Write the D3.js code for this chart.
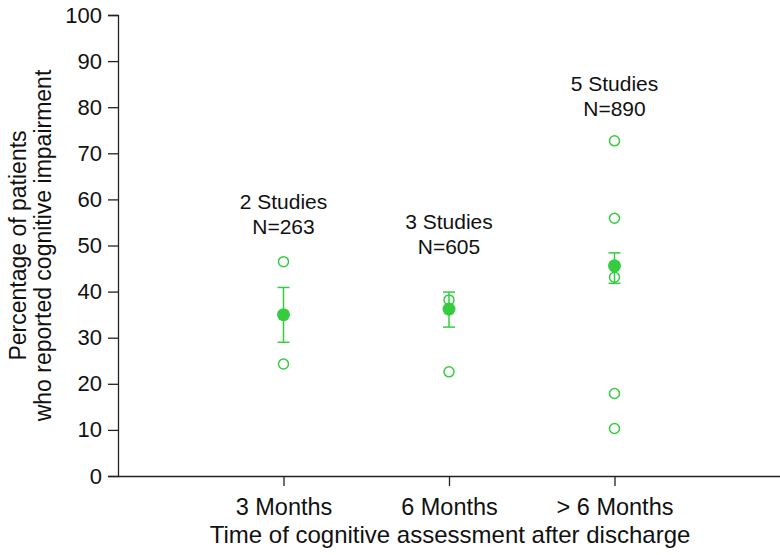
<!DOCTYPE html>
<html>
<head>
<meta charset="utf-8">
<script src="https://cdn.jsdelivr.net/npm/d3@7"></script>
<style>
  html, body { margin: 0; padding: 0; background: #fff; }
  svg text { font-family: "Liberation Sans", Arial, Helvetica, sans-serif; fill: #111; }
</style>
</head>
<body>
<svg id="chart" width="780" height="555"></svg>
<script>
const categories = ["3 Months", "6 Months", "> 6 Months"];
const studyCounts = [2, 3, 5];
const sampleSizes = [263, 605, 890];
const pooledMean = [35.0, 36.2, 45.6];
const errLow = [29.0, 32.3, 41.8];
const errHigh = [40.9, 39.9, 48.4];
const studyValues = [
  [46.5, 24.3],
  [38.2, 22.6],
  [72.7, 55.9, 43.1, 17.9, 10.3]
];
const labelLevel = [54.0, 49.7, 79.6];
const yTicks = [0, 10, 20, 30, 40, 50, 60, 70, 80, 90, 100];

const svg = d3.select("#chart");
const mLeft = 118, mRight = 780, mTop = 15, mBottom = 476;
const green = "#36cc40";

const x = d3.scalePoint().domain(categories).range([mLeft, mRight]).padding(1);
const y = d3.scaleLinear().domain([0, 100]).range([mBottom, mTop]);

// Y axis
const yAxis = svg.append("g").attr("transform", `translate(${mLeft},0)`)
  .call(d3.axisLeft(y).tickValues(yTicks).tickSize(10).tickPadding(6));
yAxis.selectAll("text").style("font-size", "22px");
yAxis.selectAll("line, path").attr("stroke", "#222").attr("stroke-width", 1.3);

// X axis
const xAxis = svg.append("g").attr("transform", `translate(0,${mBottom})`)
  .call(d3.axisBottom(x).tickSize(10).tickPadding(12).tickSizeOuter(0));
xAxis.selectAll("text").style("font-size", "23.5px");
xAxis.selectAll("line, path").attr("stroke", "#222").attr("stroke-width", 1.3);

// Axis titles
svg.append("text")
  .attr("x", 450).attr("y", 543)
  .attr("text-anchor", "middle").style("font-size", "24px")
  .text("Time of cognitive assessment after discharge");

const yt = svg.append("text")
  .attr("transform", `translate(0,${(mTop + mBottom) / 2}) rotate(-90)`)
  .attr("text-anchor", "middle").style("font-size", "23px");
yt.append("tspan").attr("x", 0).attr("y", 26).text("Percentage of patients");
yt.append("tspan").attr("x", 0).attr("y", 51).text("who reported cognitive impairment");

// Data marks
const groups = categories.map((c, i) => ({
  cat: c, mean: pooledMean[i], lo: errLow[i], hi: errHigh[i],
  vals: studyValues[i], n: sampleSizes[i], k: studyCounts[i], lab: labelLevel[i]
}));

const g = svg.append("g");

// individual studies (open circles)
groups.forEach(d => {
  g.selectAll(null).data(d.vals).enter().append("circle")
    .attr("cx", x(d.cat)).attr("cy", v => y(v)).attr("r", 5)
    .attr("fill", "none").attr("stroke", green).attr("stroke-width", 1.5);
});

// error bars
const cap = 6;
groups.forEach(d => {
  const cx = x(d.cat);
  g.append("line").attr("x1", cx).attr("x2", cx).attr("y1", y(d.lo)).attr("y2", y(d.hi))
    .attr("stroke", green).attr("stroke-width", 1.5);
  [d.lo, d.hi].forEach(v => {
    g.append("line").attr("x1", cx - cap).attr("x2", cx + cap).attr("y1", y(v)).attr("y2", y(v))
      .attr("stroke", green).attr("stroke-width", 1.5);
  });
});

// pooled means (filled)
g.selectAll(null).data(groups).enter().append("circle")
  .attr("cx", d => x(d.cat)).attr("cy", d => y(d.mean)).attr("r", 6.5)
  .attr("fill", green);

// annotations
groups.forEach(d => {
  const t = svg.append("text").attr("text-anchor", "middle").style("font-size", "21px");
  t.append("tspan").attr("x", x(d.cat)).attr("y", y(d.lab) - 25 + 7).text(`${d.k} Studies`);
  t.append("tspan").attr("x", x(d.cat)).attr("y", y(d.lab) + 7).text(`N=${d.n}`);
});
</script>
</body>
</html>
